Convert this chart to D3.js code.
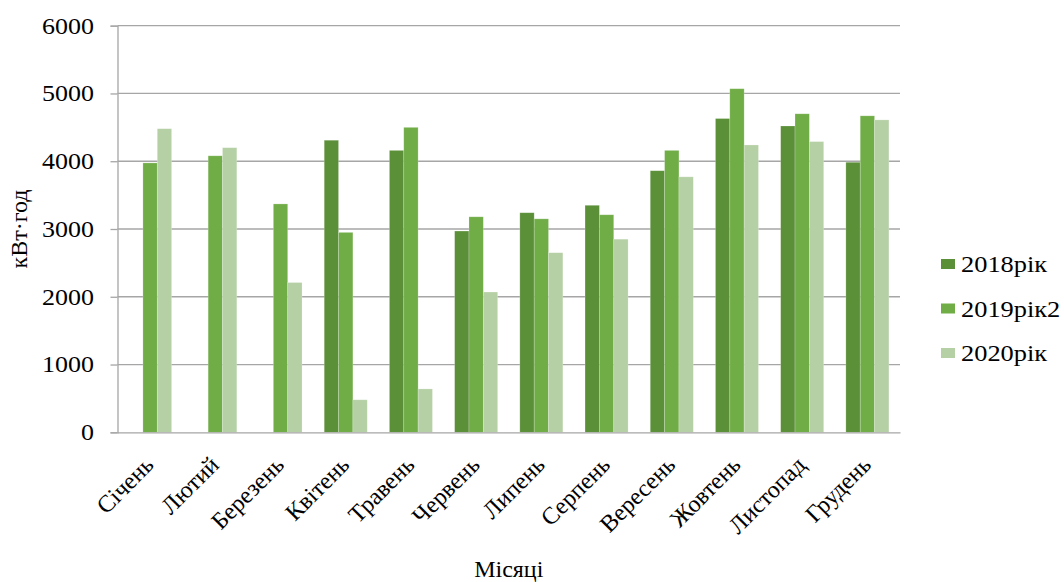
<!DOCTYPE html>
<html>
<head>
<meta charset="utf-8">
<script src="https://cdn.jsdelivr.net/npm/d3@7"></script>
<style>
  html, body { margin: 0; padding: 0; background: #fff; }
  svg text { font-family: "Liberation Serif", "Times New Roman", serif; fill: #000; }
</style>
</head>
<body>
<svg id="chart" width="1064" height="582"></svg>
<script>
// Monthly electricity consumption, kWh
const months = ["Січень", "Лютий", "Березень", "Квітень", "Травень", "Червень",
                "Липень", "Серпень", "Вересень", "Жовтень", "Листопад", "Грудень"];
const seriesNames = ["2018рік", "2019рік2", "2020рік"];
const values2018 = [null, null, null, 4310, 4160, 2970, 3240, 3350, 3860, 4630, 4520, 3985];
const values2019 = [3975, 4080, 3370, 2950, 4500, 3180, 3150, 3210, 4160, 5070, 4700, 4670];
const values2020 = [4480, 4200, 2210, 480, 640, 2070, 2650, 2850, 3770, 4240, 4290, 4610];
const yTicks = [0, 1000, 2000, 3000, 4000, 5000, 6000];
const colors = ["#5b8f38", "#70ad47", "#b5d0a5"];

const series = [values2018, values2019, values2020];

const svg = d3.select("#chart");
const margin = { left: 117.5, right: 164, top: 25.7, bottom: 149.7 };
const W = 1064, H = 582;
const plotW = W - margin.left - margin.right;
const plotH = H - margin.top - margin.bottom;

const x = d3.scaleBand().domain(months).range([margin.left, margin.left + plotW])
  .paddingInner(0.34).paddingOuter(0.17);
const xs = d3.scaleBand().domain(seriesNames).range([0, x.bandwidth()]);
const y = d3.scaleLinear().domain([0, 6000]).range([margin.top + plotH, margin.top]);

// horizontal gridlines
svg.append("g").selectAll("line").data(yTicks.slice(1)).join("line")
  .attr("x1", margin.left).attr("x2", margin.left + plotW)
  .attr("y1", d => y(d)).attr("y2", d => y(d))
  .attr("stroke", "#a6a6a6").attr("stroke-width", 1.3);

// bars
const groups = svg.append("g").selectAll("g").data(series).join("g")
  .attr("fill", (d, i) => colors[i]);
groups.selectAll("rect")
  .data((d, i) => d.map((v, j) => ({ v, m: months[j], s: seriesNames[i] })).filter(o => o.v != null))
  .join("rect")
  .attr("x", o => x(o.m) + xs(o.s))
  .attr("width", xs.bandwidth())
  .attr("y", o => y(o.v))
  .attr("height", o => y(0) - y(o.v))
  .attr("stroke", "rgba(255,255,255,0.3)")
  .attr("stroke-width", 0.7);

// y axis
const yAxis = svg.append("g")
  .attr("transform", `translate(${margin.left},0)`)
  .call(d3.axisLeft(y).tickValues(yTicks).tickSize(7).tickPadding(15).tickFormat(d3.format("d")));
yAxis.select(".domain").attr("stroke", "#a6a6a6").attr("stroke-width", 1.3);
yAxis.selectAll(".tick line").attr("stroke", "#a6a6a6").attr("stroke-width", 1.3);
yAxis.selectAll(".tick text")
  .attr("font-family", null)
  .style("font-size", "23px")
  .attr("x", -23.5 / 1.13)
  .attr("transform", "scale(1.13,1)");

// x axis baseline
const xAxis = svg.append("g")
  .attr("transform", `translate(0,${y(0)})`)
  .call(d3.axisBottom(x).tickSize(0).tickPadding(0));
xAxis.select(".domain").attr("stroke", "#a6a6a6").attr("stroke-width", 1.3);
xAxis.selectAll(".tick text")
  .attr("font-family", null)
  .style("font-size", "24px")
  .attr("text-anchor", "end")
  .attr("y", 0)
  .attr("dy", null)
  .attr("transform", "translate(5,34) rotate(-45)");

// axis titles
svg.append("text")
  .attr("x", margin.left + plotW / 2).attr("y", 577)
  .attr("text-anchor", "middle").style("font-size", "24px")
  .text("Місяці");
svg.append("text")
  .attr("transform", `translate(27,${margin.top + plotH / 2}) rotate(-90)`)
  .attr("text-anchor", "middle").style("font-size", "24px")
  .text("кВт·год");

// legend
const legend = svg.append("g").selectAll("g").data(seriesNames).join("g")
  .attr("transform", (d, i) => `translate(941,${264 + i * 44.5})`);
legend.append("rect").attr("x", 0).attr("y", -5).attr("width", 14).attr("height", 10)
  .attr("fill", (d, i) => colors[i]);
legend.append("text")
  .attr("x", 20 / 1.1).attr("y", 8)
  .attr("transform", "scale(1.1,1)")
  .style("font-size", "24px").text(d => d);
</script>
</body>
</html>
